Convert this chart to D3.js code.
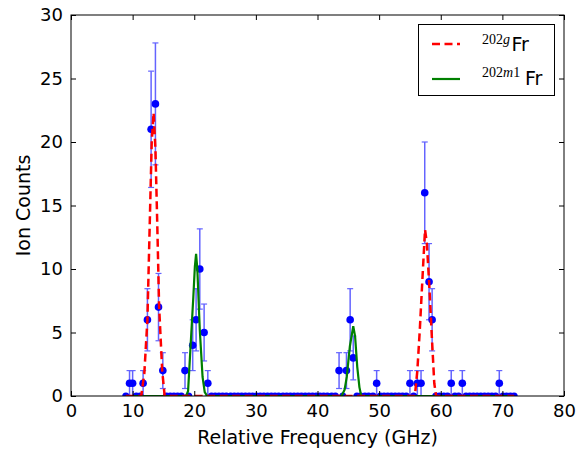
<!DOCTYPE html>
<html>
<head>
<meta charset="utf-8">
<script src="https://cdn.jsdelivr.net/npm/d3@7"></script>
<style>
  body { margin: 0; background: #fff; }
  svg { font-family: "DejaVu Sans", sans-serif; }
</style>
</head>
<body>
<svg id="chart" width="585" height="452"></svg>
<script>
// scan points with counts > 0
const hitFreq   = [9.5, 10.0, 11.7, 12.4, 13.0, 13.7, 14.2, 14.9, 18.5, 19.75, 20.3, 20.9, 21.6, 22.2,
                   43.5, 44.7, 45.3, 45.8, 49.6, 55.0, 56.2, 56.8, 57.4, 58.1, 58.6, 61.7, 63.5, 69.5];
const hitCounts = [1, 1, 1, 6, 21, 23, 7, 2, 2, 4, 6, 10, 5, 1,
                   2, 2, 6, 3, 1, 1, 1, 1, 16, 9, 6, 1, 1, 1];
const hitErr    = [1, 1, 1, 2.45, 4.58, 4.8, 2.65, 1.41, 1.41, 2, 2.45, 3.16, 2.24, 1,
                   1.41, 1.41, 2.45, 1.73, 1, 1, 1, 1, 4, 3, 2.45, 1, 1, 1];

// scan points with zero counts
const zeroFreq = [8.9, 10.6, 11.2, 15.5, 16.1, 16.7, 17.3, 17.9, 19.1,
  22.8, 23.4, 24.0, 24.6, 25.2, 25.9, 26.5, 27.1, 27.7, 28.3, 28.9, 29.5, 30.1, 30.7, 31.3,
  31.9, 32.5, 33.1, 33.7, 34.4, 35.0, 35.6, 36.2, 36.8, 37.4, 38.0, 38.6, 39.2, 39.8, 40.4,
  41.0, 41.6, 42.3, 42.9, 44.1, 46.4, 47.0, 47.7, 48.3, 49.0,
  50.2, 50.8, 51.4, 52.0, 52.6, 53.2, 53.8, 54.4, 55.6, 59.2, 59.8, 60.5, 61.1, 62.3, 62.9,
  64.1, 64.7, 65.3, 65.9, 66.5, 67.1, 67.7, 68.3, 68.9, 70.1, 70.7, 71.3, 71.9];

// fitted curves
const groundFreq = [8.9, 11.4, 11.9, 12.4, 12.8, 13.1, 13.4, 13.7, 14.0, 14.3, 14.8, 15.2,
                    55.8, 56.2, 56.6, 57.1, 57.45, 57.75, 58.15, 58.55, 58.95, 59.25, 71.9];
const groundFit  = [0, 0, 1.8, 6, 14, 20, 22.3, 19.5, 13.5, 7, 2, 0,
                    0, 2.0, 5.2, 9.9, 13.1, 12.0, 8.6, 4.7, 1.0, 0, 0];
const isomerFreq = [8.9, 18.7, 19.0, 19.4, 19.85, 20.1, 20.3, 20.5, 20.9, 21.35, 21.7, 22.1,
                    43.9, 44.4, 44.75, 45.25, 45.8, 46.1, 46.45, 46.8, 47.1, 71.9];
const isomerFit  = [0, 0, 0.4, 3.9, 7.8, 10.2, 11.2, 10.0, 5.2, 1.5, 0.3, 0,
                    0, 0.5, 1.5, 3.9, 5.5, 4.7, 2.3, 0.7, 0, 0];

const xTicks = [0, 10, 20, 30, 40, 50, 60, 70, 80];
const yTicks = [0, 5, 10, 15, 20, 25, 30];

const margin = {top: 15, left: 71, right: 21, bottom: 56};
const width = 585 - margin.left - margin.right;
const height = 452 - margin.top - margin.bottom;

const svg = d3.select('#chart');
const g = svg.append('g').attr('transform', `translate(${margin.left},${margin.top})`);

const x = d3.scaleLinear().domain([0, 80]).range([0, width]);
const y = d3.scaleLinear().domain([0, 30]).range([height, 0]);

svg.append('defs').append('clipPath').attr('id', 'plotclip')
  .append('rect').attr('width', width).attr('height', height);

const plot = g.append('g').attr('clip-path', 'url(#plotclip)');

// error bars
const hits = hitFreq.map((f, i) => ({f: f, c: hitCounts[i], e: hitErr[i]}));
const errCol = '#6464ff';
const bars = plot.selectAll('.err').data(hits).enter().append('g');
bars.append('line')
  .attr('x1', d => x(d.f)).attr('x2', d => x(d.f))
  .attr('y1', d => y(d.c - d.e)).attr('y2', d => y(d.c + d.e))
  .attr('stroke', errCol).attr('stroke-width', 1.5);
bars.append('line')
  .attr('x1', d => x(d.f) - 3).attr('x2', d => x(d.f) + 3)
  .attr('y1', d => y(d.c + d.e)).attr('y2', d => y(d.c + d.e))
  .attr('stroke', errCol).attr('stroke-width', 1.2);
bars.append('line')
  .attr('x1', d => x(d.f) - 3).attr('x2', d => x(d.f) + 3)
  .attr('y1', d => y(d.c - d.e)).attr('y2', d => y(d.c - d.e))
  .attr('stroke', errCol).attr('stroke-width', 1.2);

// data points
plot.selectAll('.zero').data(zeroFreq).enter().append('circle')
  .attr('cx', d => x(d)).attr('cy', y(0)).attr('r', 3.6).attr('fill', '#0000ff');
plot.selectAll('.hit').data(hits).enter().append('circle')
  .attr('cx', d => x(d.f)).attr('cy', d => y(d.c)).attr('r', 3.8).attr('fill', '#0000ff');

// fits
const line = d3.line().x(d => x(d[0])).y(d => y(d[1]));
plot.append('path')
  .datum(isomerFreq.map((f, i) => [f, isomerFit[i]]))
  .attr('d', line).attr('fill', 'none')
  .attr('stroke', '#008000').attr('stroke-width', 2.2);
plot.append('path')
  .datum(groundFreq.map((f, i) => [f, groundFit[i]]))
  .attr('d', line).attr('fill', 'none')
  .attr('stroke', '#ff0000').attr('stroke-width', 2.5)
  .attr('stroke-dasharray', '8,4.5');

// axes, ticks pointing inward
const fontSize = '18px';
g.append('g').attr('transform', `translate(0,${height})`)
  .call(d3.axisBottom(x).tickValues(xTicks).tickSize(-5).tickPadding(8))
  .call(a => a.select('.domain').remove())
  .selectAll('text').attr('font-size', fontSize).attr('font-family', 'DejaVu Sans').attr('fill', '#000');
g.append('g')
  .call(d3.axisTop(x).tickValues(xTicks).tickSize(-5).tickFormat(''))
  .call(a => a.select('.domain').remove());
g.append('g')
  .call(d3.axisLeft(y).tickValues(yTicks).tickSize(-5).tickPadding(8))
  .call(a => a.select('.domain').remove())
  .selectAll('text').attr('font-size', fontSize).attr('font-family', 'DejaVu Sans').attr('fill', '#000');
g.append('g').attr('transform', `translate(${width},0)`)
  .call(d3.axisRight(y).tickValues(yTicks).tickSize(-5).tickFormat(''))
  .call(a => a.select('.domain').remove());

g.append('rect').attr('width', width).attr('height', height)
  .attr('fill', 'none').attr('stroke', '#000').attr('stroke-width', 1);

// axis labels
svg.append('text')
  .attr('x', margin.left + width / 2).attr('y', 444)
  .attr('text-anchor', 'middle').attr('font-size', '19px')
  .text('Relative Frequency (GHz)');
svg.append('text')
  .attr('transform', `translate(30,${margin.top + height / 2}) rotate(-90)`)
  .attr('text-anchor', 'middle').attr('font-size', '19px')
  .text('Ion Counts');

// legend
const leg = svg.append('g');
leg.append('rect').attr('x', 418.5).attr('y', 24.5).attr('width', 136).attr('height', 71)
  .attr('fill', '#fff').attr('stroke', '#000').attr('stroke-width', 1);
leg.append('line').attr('x1', 432).attr('x2', 460).attr('y1', 44).attr('y2', 44)
  .attr('stroke', '#ff0000').attr('stroke-width', 2.5).attr('stroke-dasharray', '8,4.5');
leg.append('line').attr('x1', 432).attr('x2', 460).attr('y1', 79).attr('y2', 79)
  .attr('stroke', '#008000').attr('stroke-width', 2.2);

const supFont = 'Liberation Serif';
const sup1 = leg.append('text').attr('x', 482).attr('y', 44).attr('font-family', supFont).attr('font-size', '14px');
sup1.append('tspan').text('202');
sup1.append('tspan').attr('font-style', 'italic').text('g');
leg.append('text').attr('x', 511.5).attr('y', 50.7).attr('font-size', '19px').text('Fr');

const sup2 = leg.append('text').attr('x', 482).attr('y', 77).attr('font-family', supFont).attr('font-size', '14px');
sup2.append('tspan').text('202');
sup2.append('tspan').attr('font-style', 'italic').text('m');
sup2.append('tspan').text('1');
leg.append('text').attr('x', 525).attr('y', 85).attr('font-size', '19px').text('Fr');
</script>
</body>
</html>
